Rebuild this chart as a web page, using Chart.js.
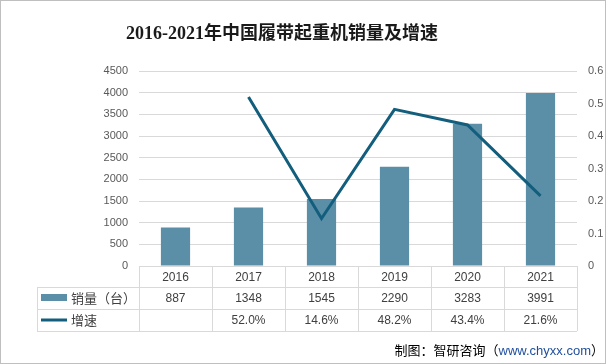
<!DOCTYPE html>
<html>
<head>
<meta charset="utf-8">
<script src="https://cdn.jsdelivr.net/npm/chart.js@4/dist/chart.umd.min.js"></script>
<style>
  html, body { margin: 0; padding: 0; background: #fff; }
  #wrap { position: relative; width: 606px; height: 364px; overflow: hidden; }
  #frame { position: absolute; left: 0; top: 0; width: 606px; height: 364px; box-sizing: border-box; border: 1px solid #BFBFBF; pointer-events: none; }
  #title { position: absolute; left: 0; width: 564px; top: 18px; text-align: center;
           font: bold 18px "Liberation Serif", "Noto Sans CJK SC", serif; color: #1a1a1a; }
  #source { position: absolute; right: 2px; top: 340px; font: 13px "Noto Sans CJK SC", sans-serif; color: #000; }
  #source span { color: #1F4E9E; font-family: "Liberation Sans", sans-serif; }
</style>
</head>
<body>
<div id="wrap">
  <canvas id="salesChart" width="606" height="364"></canvas>
  <div id="title">2016-2021年中国履带起重机销量及增速</div>
  <div id="source">制图：智研咨询（<span>www.chyxx.com</span>）</div>
  <div id="frame"></div>
</div>
<script>
// chart data
const years = ['2016', '2017', '2018', '2019', '2020', '2021'];
const sales = [887, 1348, 1545, 2290, 3283, 3991];
const growth = [null, 0.520, 0.146, 0.482, 0.434, 0.216];
const seriesNames = ['销量（台）', '增速'];

const barColor = '#5B8FA8';
const lineColor = '#135E7C';
const gridColor = '#D9D9D9';
const textColor = '#404040';

// draws the data table under the plot, columns taken from the x scale
const dataTable = {
    id: 'dataTable',
    afterDraw(chart) {
        const c = chart.ctx;
        const x = chart.scales.x;
        const area = chart.chartArea;
        const half = (x.getPixelForValue(1) - x.getPixelForValue(0)) / 2;
        const top = area.bottom;
        const rows = [top, top + 21, top + 43, top + 65];
        const tableLeft = 37;

        c.save();
        c.strokeStyle = gridColor;
        c.lineWidth = 1;
        c.beginPath();
        // horizontal lines
        c.moveTo(area.left, rows[0] + 0.5); c.lineTo(area.right, rows[0] + 0.5);
        for (let r = 1; r < rows.length; r++) {
            c.moveTo(tableLeft, rows[r] + 0.5);
            c.lineTo(area.right, rows[r] + 0.5);
        }
        // vertical lines
        c.moveTo(tableLeft + 0.5, rows[1]); c.lineTo(tableLeft + 0.5, rows[3]);
        for (let i = 0; i <= years.length; i++) {
            const px = Math.round(x.getPixelForValue(i) - half) + 0.5;
            c.moveTo(px, rows[0]); c.lineTo(px, rows[3]);
        }
        c.stroke();

        c.font = '12px "Liberation Sans", "Noto Sans CJK SC", sans-serif';
        c.fillStyle = textColor;
        c.textAlign = 'center';
        c.textBaseline = 'middle';
        years.forEach((y, i) => {
            const px = x.getPixelForValue(i);
            c.fillText(y, px, (rows[0] + rows[1]) / 2 + 1);
            c.fillText(String(sales[i]), px, (rows[1] + rows[2]) / 2 + 1);
            if (growth[i] !== null) {
                c.fillText((growth[i] * 100).toFixed(1) + '%', px, (rows[2] + rows[3]) / 2 + 1);
            }
        });

        // legend keys
        c.fillStyle = barColor;
        c.fillRect(41, rows[1] + 7, 26, 7);
        c.strokeStyle = lineColor;
        c.lineWidth = 3;
        c.beginPath();
        c.moveTo(41, rows[2] + 11); c.lineTo(67, rows[2] + 11);
        c.stroke();

        c.font = '13px "Noto Sans CJK SC", sans-serif';
        c.fillStyle = textColor;
        c.textAlign = 'left';
        c.fillText(seriesNames[0], 71, (rows[1] + rows[2]) / 2);
        c.fillText(seriesNames[1], 71, (rows[2] + rows[3]) / 2);
        c.restore();
    }
};

const tickFont = { family: '"Liberation Sans", sans-serif', size: 11 };

new Chart(document.getElementById('salesChart'), {
    data: {
        labels: years,
        datasets: [{
            type: 'line',
            label: seriesNames[1],
            data: growth,
            yAxisID: 'y1',
            borderColor: lineColor,
            borderWidth: 3,
            pointRadius: 0,
            tension: 0,
            spanGaps: false,
            order: 0
        }, {
            type: 'bar',
            label: seriesNames[0],
            data: sales,
            yAxisID: 'y',
            backgroundColor: barColor,
            categoryPercentage: 1,
            barPercentage: 0.4,
            order: 1
        }]
    },
    options: {
        responsive: false,
        animation: false,
        layout: { padding: { left: 0, right: 0, top: 71, bottom: 98 } },
        scales: {
            x: { display: false },
            y: {
                position: 'left',
                min: 0, max: 4500,
                ticks: { stepSize: 500, color: '#595959', font: tickFont, padding: 11,
                         callback: v => String(v) },
                grid: { color: gridColor, drawTicks: false },
                border: { display: false },
                afterFit(s) { s.width = 139; }
            },
            y1: {
                position: 'right',
                min: 0, max: 0.6,
                ticks: { stepSize: 0.1, color: '#595959', font: tickFont, padding: 11,
                         callback: v => String(Math.round(v * 10) / 10) },
                grid: { display: false, drawTicks: false },
                border: { display: false },
                afterFit(s) { s.width = 29; }
            }
        },
        plugins: {
            legend: { display: false },
            tooltip: { enabled: false }
        }
    },
    plugins: [dataTable]
});
</script>
</body>
</html>
